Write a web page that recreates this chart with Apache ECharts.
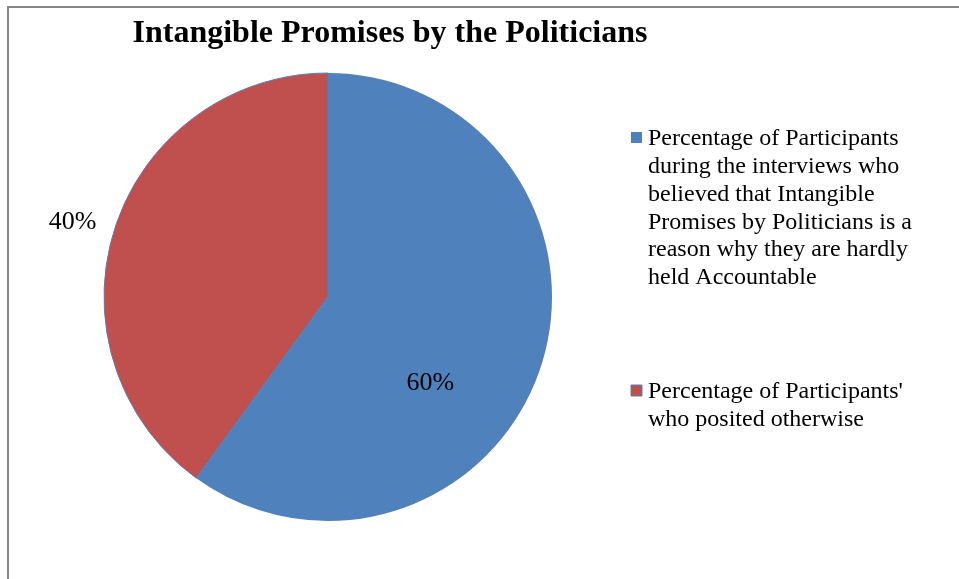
<!DOCTYPE html>
<html>
<head>
<meta charset="utf-8">
<script src="https://cdn.jsdelivr.net/npm/echarts@6/dist/echarts.min.js"></script>
<style>html,body{margin:0;padding:0;background:#fff}#c{width:959px;height:579px}</style>
</head>
<body>
<div id="c"></div>
<script>
var titleText = 'Intangible Promises by the Politicians';
var categories = [
  'Percentage of Participants\nduring the interviews who\nbelieved that Intangible\nPromises by Politicians is a\nreason why they are hardly\nheld Accountable',
  "Percentage of Participants'\nwho posited otherwise"
];
var values = [60, 40];
var colors = ['#4F81BD', '#C0504D'];
var labelOffsets = [[-7, 51], [-146, -39]];
var legendTops = [125, 378];

var FONT = '"Liberation Serif","Times New Roman",serif';
var chart = echarts.init(document.getElementById('c'));

var data = categories.map(function (name, i) {
  return {
    name: name,
    value: values[i],
    itemStyle: { color: colors[i], borderColor: '#4F81BD', borderWidth: i === 1 ? 1 : 0 },
    label: { offset: labelOffsets[i] }
  };
});

var graphics = [
  { type: 'line', shape: { x1: 8, y1: 7, x2: 959, y2: 7 }, style: { stroke: '#878787', lineWidth: 2 } },
  { type: 'line', shape: { x1: 8, y1: 6, x2: 8, y2: 579 }, style: { stroke: '#878787', lineWidth: 2 } }
];
categories.forEach(function (name, i) {
  graphics.push({ type: 'rect', shape: { x: 631, y: legendTops[i] + 7, width: 11, height: 11 }, style: { fill: colors[i], stroke: i === 1 ? '#4F81BD' : null, lineWidth: 1 } });
  graphics.push({ type: 'text', x: 648, y: legendTops[i], style: { text: name, font: '24px ' + FONT, fill: '#000', lineHeight: 27.8, verticalAlign: 'top' } });
});

chart.setOption({
  animation: false,
  title: {
    text: titleText,
    left: 385,
    textAlign: 'center',
    top: 13,
    textStyle: { fontFamily: FONT, fontWeight: 'bold', fontSize: 32, color: '#000' }
  },
  graphic: graphics,
  series: [{
    type: 'pie',
    center: [328, 297],
    radius: [0, 224],
    startAngle: 90,
    clockwise: true,
    label: {
      show: true,
      position: 'inside',
      formatter: '{c}%',
      fontFamily: FONT,
      fontSize: 26,
      color: '#000'
    },
    labelLine: { show: false },
    emphasis: { disabled: true },
    data: data
  }]
});
</script>
</body>
</html>
